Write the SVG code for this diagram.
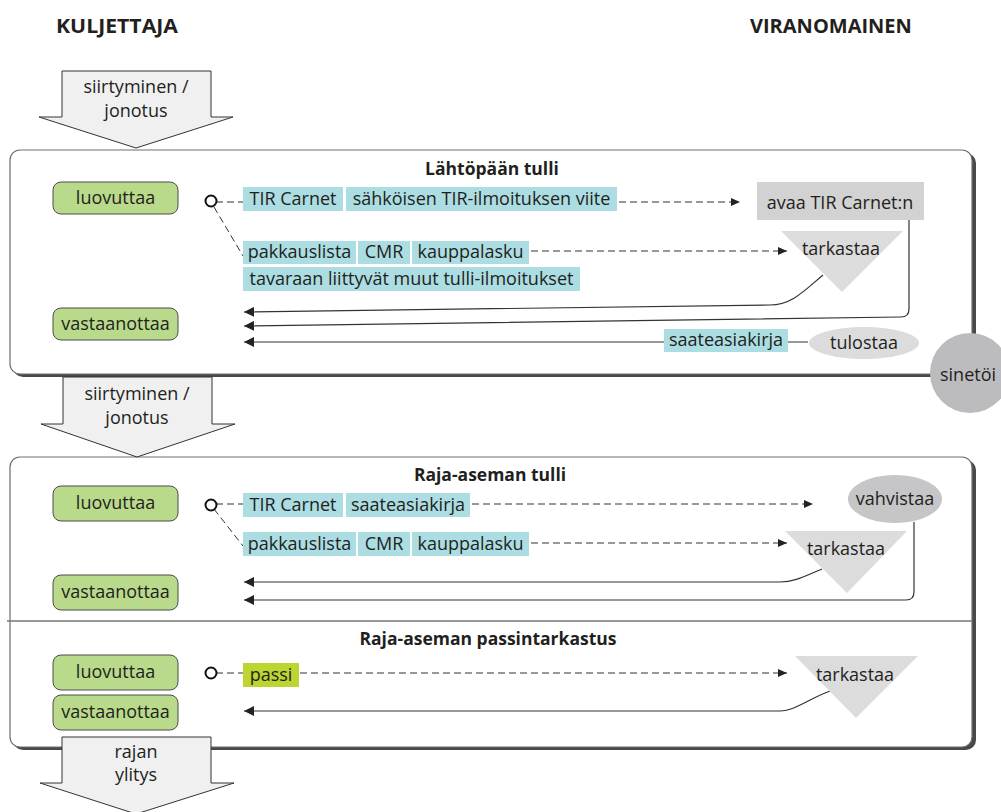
<svg xmlns="http://www.w3.org/2000/svg" width="1001" height="812" viewBox="0 0 1001 812">
<style>
text { font-family: "Open Sans", "Noto Sans", "Liberation Sans", sans-serif; fill: #231f20; }
.t { font-size: 18px; text-anchor: middle; }
.h { font-size: 20px; font-weight: bold; }
.st { font-size: 17.5px; font-weight: bold; text-anchor: middle; }
.cy { fill: #abdde3; }
.gr { fill: #b9da8b; stroke: #4d4d4d; stroke-width: 1; }
.ps { fill: #bcd531; }
.panel { fill: #ffffff; stroke: #6e6e6e; stroke-width: 1.2; }
.shadow { fill: #4a4a4a; }
.blk { fill: #f0f0f0; stroke: #333333; stroke-width: 1; }
.dash { fill: none; stroke: #333333; stroke-width: 1; stroke-dasharray: 7 4; }
.sol { fill: none; stroke: #333333; stroke-width: 1.2; }
.circ { fill: #ffffff; stroke: #111111; stroke-width: 2; }
.g1 { fill: #d2d2d3; }
.g2 { fill: #dcdcdd; }
.g3 { fill: #c6c6c8; }
.g4 { fill: #bcbcbe; }
</style>
<defs>
<filter id="blur" x="-5%" y="-5%" width="110%" height="110%"><feGaussianBlur stdDeviation="0.7"/></filter>
<marker id="ah" markerUnits="userSpaceOnUse" markerWidth="12" markerHeight="10" refX="10" refY="5" orient="auto"><path d="M0,0 L10,5 L0,10 z" fill="#222222"/></marker>
<marker id="ahs" markerUnits="userSpaceOnUse" markerWidth="12" markerHeight="10" refX="9" refY="4" orient="auto"><path d="M0,0 L9,4 L0,8 z" fill="#222222"/></marker>
</defs>

<g id="titles">
<text class="h" x="56" y="33" textLength="122" lengthAdjust="spacingAndGlyphs">KULJETTAJA</text>
<text class="h" x="750" y="33">VIRANOMAINEN</text>
</g>

<g id="panel1">
<rect class="shadow" x="13" y="153" width="963" height="224" rx="10" filter="url(#blur)"/>
<rect class="panel" x="10" y="150" width="962" height="224" rx="10"/>
<text class="st" x="492" y="175">Lähtöpään tulli</text>
</g>

<g id="panel2">
<rect class="shadow" x="13" y="460" width="963" height="290" rx="10" filter="url(#blur)"/>
<rect class="panel" x="10" y="457" width="962" height="290" rx="10"/>
<text class="st" x="490" y="481">Raja-aseman tulli</text>
<line x1="7" y1="621" x2="972" y2="621" stroke="#777777" stroke-width="1.5"/>
<text class="st" x="488" y="645">Raja-aseman passintarkastus</text>
</g>

<g id="flow1">
<polygon class="blk" points="62,71 211,71 211,117 233,117 136,148 39,117 62,117"/>
<text class="t" x="136" y="93">siirtyminen /</text>
<text class="t" x="136" y="117">jonotus</text>
</g>
<g id="flow2">
<polygon class="blk" points="63,377 212,377 212,424 235,424 137,457 41,424 63,424"/>
<text class="t" x="137" y="400">siirtyminen /</text>
<text class="t" x="137" y="424">jonotus</text>
</g>

<g id="connectors">
<!-- panel 1 -->
<line class="dash" x1="216" y1="202" x2="243" y2="202"/>
<line class="dash" x1="214" y1="207" x2="243" y2="256"/>
<line class="dash" x1="619" y1="202" x2="740" y2="202" marker-end="url(#ahs)"/>
<line class="dash" x1="531" y1="251" x2="787" y2="251" marker-end="url(#ahs)"/>
<path class="sol" d="M823,275 C805,290 792,305 770,305 L244,312" marker-end="url(#ah)"/>
<path class="sol" d="M909,220 V309 Q909,317 901,317 L244,326" marker-end="url(#ah)"/>
<path class="sol" d="M808,342 L244,342" marker-end="url(#ah)"/>
<!-- panel 2 -->
<line class="dash" x1="216" y1="504" x2="243" y2="504"/>
<line class="dash" x1="214" y1="509" x2="243" y2="546"/>
<line class="dash" x1="472" y1="504" x2="813" y2="504" marker-end="url(#ahs)"/>
<line class="dash" x1="531" y1="543" x2="787" y2="543" marker-end="url(#ahs)"/>
<path class="sol" d="M822,569 C805,576 795,582 780,582 L244,582" marker-end="url(#ah)"/>
<path class="sol" d="M914,522 V592 Q914,600 906,600 L244,600" marker-end="url(#ah)"/>
<!-- panel 3 -->
<line class="dash" x1="216" y1="673" x2="243" y2="673"/>
<line class="dash" x1="300" y1="673" x2="787" y2="673" marker-end="url(#ahs)"/>
<path class="sol" d="M830,691 C810,698 795,711 780,711 L244,711" marker-end="url(#ah)"/>
</g>

<g id="flow3">
<polygon class="blk" points="62,737 211,737 211,783 234,783 136,814 40,783 62,783"/>
<text class="t" x="136" y="758">rajan</text>
<text class="t" x="136" y="781">ylitys</text>
</g>

<!-- Panel 1 nodes -->
<g id="p1-luovuttaa"><rect class="gr" x="53" y="182" width="125" height="32" rx="8"/><text class="t" x="115.5" y="204">luovuttaa</text></g>
<g id="p1-vastaanottaa"><rect class="gr" x="53" y="308" width="125" height="32" rx="8"/><text class="t" x="115.5" y="330">vastaanottaa</text></g>
<g id="p1-origin"><circle class="circ" cx="211" cy="201" r="5.5"/></g>
<g id="p1-tir"><rect class="cy" x="243" y="187" width="100" height="24"/><text class="t" x="293" y="205">TIR Carnet</text></g>
<g id="p1-viite"><rect class="cy" x="346" y="187" width="271" height="24"/><text class="t" x="481.5" y="205">sähköisen TIR-ilmoituksen viite</text></g>
<g id="p1-pakkaus"><rect class="cy" x="243" y="241" width="113" height="23"/><text class="t" x="299.5" y="258">pakkauslista</text></g>
<g id="p1-cmr"><rect class="cy" x="358" y="241" width="52" height="23"/><text class="t" x="384" y="258">CMR</text></g>
<g id="p1-kauppa"><rect class="cy" x="412" y="241" width="117" height="23"/><text class="t" x="470.5" y="258">kauppalasku</text></g>
<g id="p1-muut"><rect class="cy" x="243" y="267" width="337" height="24"/><text class="t" x="411.5" y="285">tavaraan liittyvät muut tulli-ilmoitukset</text></g>
<g id="p1-saate"><rect class="cy" x="664" y="329" width="124" height="23"/><text class="t" x="726" y="346">saateasiakirja</text></g>
<g id="p1-avaa"><rect class="g1" x="757" y="182" width="167" height="38"/><text class="t" x="840" y="209">avaa TIR Carnet:n</text></g>
<g id="p1-tarkastaa"><polygon class="g2" points="781,231 903,231 842,292"/><text class="t" x="841" y="255">tarkastaa</text></g>
<g id="p1-tulostaa"><ellipse class="g2" cx="864" cy="343" rx="55" ry="16"/><text class="t" x="864" y="349">tulostaa</text></g>
<g id="sinetoi"><circle class="g4" cx="970" cy="373" r="40"/><text class="t" x="968" y="381">sinetöi</text></g>

<!-- Panel 2 nodes -->
<g id="p2-luovuttaa"><rect class="gr" x="53" y="486" width="125" height="35" rx="8"/><text class="t" x="115.5" y="509">luovuttaa</text></g>
<g id="p2-vastaanottaa"><rect class="gr" x="53" y="575" width="125" height="35" rx="8"/><text class="t" x="115.5" y="598">vastaanottaa</text></g>
<g id="p2-origin"><circle class="circ" cx="211" cy="505" r="5.5"/></g>
<g id="p2-tir"><rect class="cy" x="243" y="493" width="100" height="24"/><text class="t" x="293" y="511">TIR Carnet</text></g>
<g id="p2-saate"><rect class="cy" x="346" y="493" width="124" height="24"/><text class="t" x="408" y="511">saateasiakirja</text></g>
<g id="p2-pakkaus"><rect class="cy" x="243" y="532" width="113" height="24"/><text class="t" x="299.5" y="550">pakkauslista</text></g>
<g id="p2-cmr"><rect class="cy" x="358" y="532" width="52" height="24"/><text class="t" x="384" y="550">CMR</text></g>
<g id="p2-kauppa"><rect class="cy" x="412" y="532" width="117" height="24"/><text class="t" x="470.5" y="550">kauppalasku</text></g>
<g id="p2-vahvistaa"><ellipse class="g3" cx="895" cy="499" rx="47" ry="24"/><text class="t" x="895" y="505">vahvistaa</text></g>
<g id="p2-tarkastaa"><polygon class="g2" points="785,531 907,531 847,593"/><text class="t" x="846" y="555">tarkastaa</text></g>

<!-- Panel 3 nodes -->
<g id="p3-luovuttaa"><rect class="gr" x="53" y="655" width="125" height="35" rx="8"/><text class="t" x="115.5" y="678">luovuttaa</text></g>
<g id="p3-vastaanottaa"><rect class="gr" x="53" y="695" width="125" height="35" rx="8"/><text class="t" x="115.5" y="718">vastaanottaa</text></g>
<g id="p3-origin"><circle class="circ" cx="211" cy="673" r="5.5"/></g>
<g id="p3-passi"><rect class="ps" x="243" y="663" width="56" height="24"/><text class="t" x="271" y="681">passi</text></g>
<g id="p3-tarkastaa"><polygon class="g2" points="795,656 918,656 856,718"/><text class="t" x="855" y="681">tarkastaa</text></g>
</svg>
